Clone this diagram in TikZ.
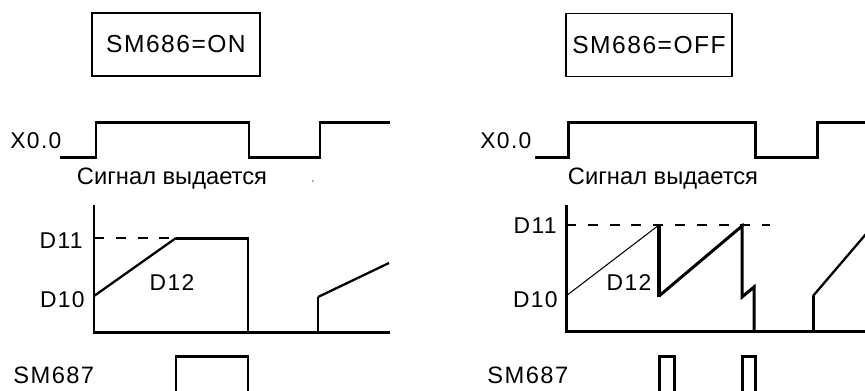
\documentclass[tikz,border=0pt]{standalone}
\usepackage{fontspec}
\setmainfont{Liberation Sans}
\newfontfamily\widesans[LetterSpace=6]{Liberation Sans}
\usetikzlibrary{positioning}

\begin{document}
\begin{tikzpicture}[x=0.02cm, y=-0.02cm,
  modebox/.style={draw, line width=0.8pt, minimum height=1.26cm, inner sep=0pt, font=\widesans\fontsize{14}{16}\selectfont},
  lbl/.style={inner sep=0pt, font=\widesans\fontsize{13}{15}\selectfont},
  wave/.style={line width=1.7pt},
  ramp/.style={line width=1.3pt},
  limit/.style={line width=1.6pt, dash pattern=on 5.7pt off 6.7pt}
]
  \useasboundingbox (0,0) rectangle (865,390);

  % SM686 = ON
  \node[modebox, minimum width=3.36cm] (modeon) at (176,44.5) {SM686=ON};
  \node[lbl, anchor=base west] (xon) at (10,148) {X0.0};
  \draw[wave] (60,157) -- (96,157) -- (96,122) -- (249,122) -- (249,157) -- (320,157) -- (320,122) -- (390,122);
  \node[lbl, anchor=base, font=\fontsize{13.5}{15}\selectfont] (sigon) at (172,184) {Сигнал выдается};
  \node[lbl, gray, font=\fontsize{9}{10}\selectfont] (doton) at (313,182) {.};

  \draw[wave] (94,205) -- (94,332) -- (390,332);
  \draw[limit] (94,238) -- (176,238);
  \node[lbl, anchor=base east] (maxon) at (83,248) {D11};
  \node[lbl, anchor=base east] (minon) at (85,307) {D10};
  \node[lbl, anchor=base] (curon) at (172,290) {D12};
  \draw[ramp] (94,296) -- (176,238);
  \draw[wave] (176,238) -- (248,238) -- (248,332);
  \draw[wave] (318,332) -- (318,297);
  \draw[ramp] (318,297) -- (389,263);

  \node[lbl, anchor=base west, font=\widesans\fontsize{13.5}{15}\selectfont] (flagon) at (13,383) {SM687};
  \draw[wave] (176,393) -- (176,356) -- (248,356) -- (248,393);

  % SM686 = OFF
  \node[modebox, minimum width=3.32cm] (modeoff) at (649,45) {SM686=OFF};
  \node[lbl, anchor=base west] (xoff) at (480,148) {X0.0};
  \draw[wave] (535,157) -- (568,157) -- (568,122) -- (755,122) -- (755,157) -- (817,157) -- (817,122) -- (866,122);
  \node[lbl, anchor=base, font=\fontsize{13.5}{15}\selectfont] (sigoff) at (663,184) {Сигнал выдается};

  \draw[wave] (566,205) -- (566,331) -- (866,331);
  \draw[limit] (566,225) -- (770,225);
  \node[lbl, anchor=base east] (maxoff) at (557,233) {D11};
  \node[lbl, anchor=base east] (minoff) at (558,307) {D10};
  \node[lbl, anchor=base] (curoff) at (629,290) {D12};
  \draw[line width=0.6pt] (566,296) -- (659,225);
  \draw[line width=2.2pt] (659,226) -- (659,297);
  \draw[wave] (659,296) -- (742,226) -- (742,297) -- (754,287) -- (754,331);
  \draw[wave] (813,331) -- (813,296);
  \draw[ramp] (813,296) -- (866,234);

  \node[lbl, anchor=base west, font=\widesans\fontsize{13.5}{15}\selectfont] (flagoff) at (487,383) {SM687};
  \draw[wave] (659,393) -- (659,356) -- (674,356) -- (674,393);
  \draw[wave] (742,393) -- (742,356) -- (755,356) -- (755,393);
\end{tikzpicture}
\end{document}
